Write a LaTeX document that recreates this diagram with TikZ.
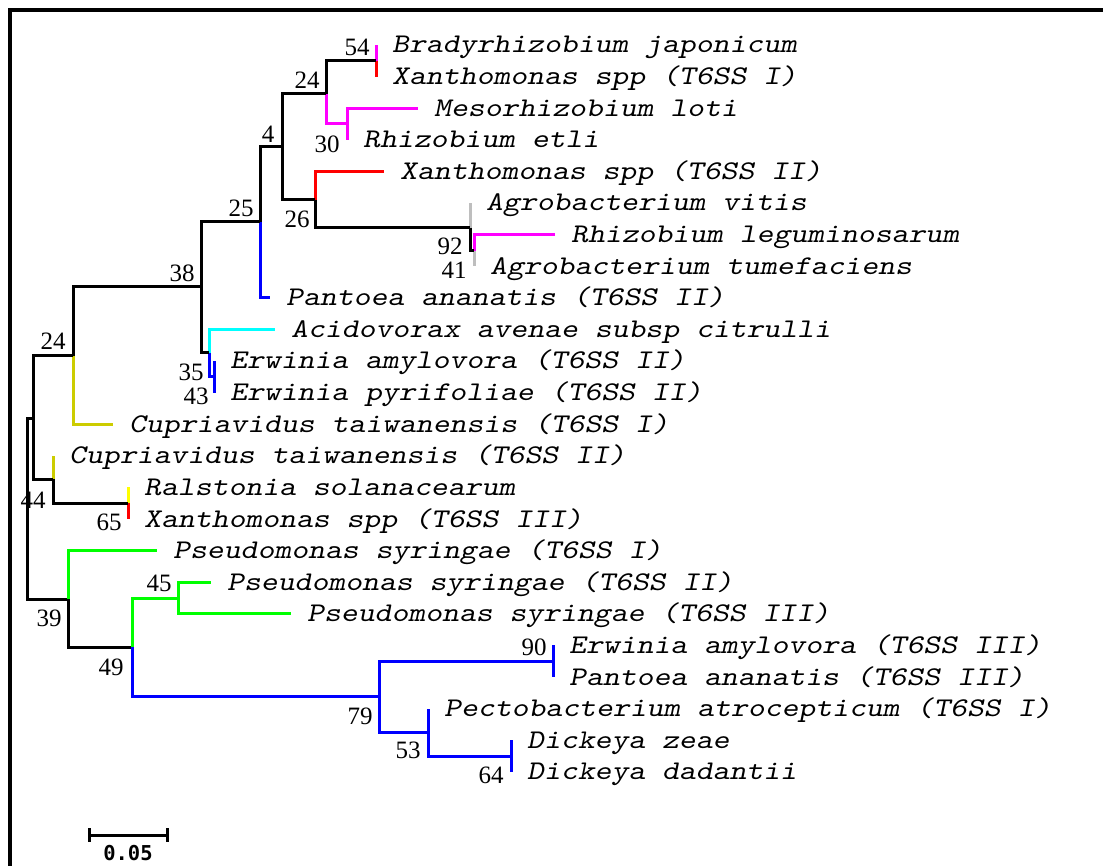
\documentclass[tikz,border=0pt]{standalone}
\usepackage{fontspec}
\setmainfont{Liberation Serif}
\newfontfamily\leaffont{lmmonoslant10-regular.otf}[FakeStretch=1.19]
\newfontfamily\barfont{DejaVu Sans Mono}
\definecolor{cmag}{RGB}{255,0,255}
\definecolor{cred}{RGB}{255,0,0}
\definecolor{cblue}{RGB}{0,0,255}
\definecolor{ccyan}{RGB}{0,255,255}
\definecolor{cgreen}{RGB}{0,255,0}
\definecolor{cgrey}{RGB}{190,190,190}
\definecolor{cdyel}{RGB}{204,204,0}
\definecolor{cyel}{RGB}{255,255,0}
\tikzset{
  br/.style={line width=3pt, line join=miter},
  leaftext/.style={font=\leaffont\fontsize{27}{29}\selectfont, inner sep=0pt, anchor=base west},
  num/.style={font=\fontsize{25}{27}\selectfont, inner sep=0pt, anchor=center},
  frame/.style={line width=4pt, line join=miter},
}
\newcommand\leafat[4]{%
  \coordinate (#1) at (#2,#3);
  \node[leaftext] (#1t) at ([xshift=16pt,yshift=-8pt]#1) {#4};}
\begin{document}
\begin{tikzpicture}[x=1pt,y=-1pt]
\useasboundingbox (0,0) rectangle (1103,866);
\fill[white] (0,0) rectangle (1103,866);
% frame
\coordinate (fa) at (10,870);
\coordinate (fb) at (10,10);
\coordinate (fc) at (1110,10);
\draw[frame] (fa) -- (fb) -- (fc);
% leaves
\leafat{L1}{376}{45}{Bradyrhizobium japonicum}
\leafat{L2}{376}{76.6}{Xanthomonas spp (T6SS I)}
\leafat{L3}{418}{108.2}{Mesorhizobium loti}
\leafat{L4}{347}{139.8}{Rhizobium etli}
\leafat{L5}{384}{171.4}{Xanthomonas spp (T6SS II)}
\leafat{L6}{470}{203}{Agrobacterium vitis}
\leafat{L7}{555}{234.6}{Rhizobium leguminosarum}
\leafat{L8}{474}{266.2}{Agrobacterium tumefaciens}
\leafat{L9}{270}{297.8}{Pantoea ananatis (T6SS II)}
\leafat{L10}{275}{329.4}{Acidovorax avenae subsp citrulli}
\leafat{L11}{214}{361}{Erwinia amylovora (T6SS II)}
\leafat{L12}{214}{392.6}{Erwinia pyrifoliae (T6SS II)}
\leafat{L13}{113}{424.2}{Cupriavidus taiwanensis (T6SS I)}
\leafat{L14}{53}{455.8}{Cupriavidus taiwanensis (T6SS II)}
\leafat{L15}{128}{487.4}{Ralstonia solanacearum}
\leafat{L16}{128}{519}{Xanthomonas spp (T6SS III)}
\leafat{L17}{157}{550.6}{Pseudomonas syringae (T6SS I)}
\leafat{L18}{211}{582.2}{Pseudomonas syringae (T6SS II)}
\leafat{L19}{291}{613.8}{Pseudomonas syringae (T6SS III)}
\leafat{L20}{553}{645.4}{Erwinia amylovora (T6SS III)}
\leafat{L21}{553}{677}{Pantoea ananatis (T6SS III)}
\leafat{L22}{428}{708.6}{Pectobacterium atrocepticum (T6SS I)}
\leafat{L23}{511}{740.2}{Dickeya zeae}
\leafat{L24}{511}{771.8}{Dickeya dadantii}
% internal nodes
\coordinate (n54) at (376,61);
\coordinate (n30) at (347,124);
\coordinate (n24a) at (326,94);
\coordinate (nQ) at (474,251);
\coordinate (nP) at (470,228);
\coordinate (n26) at (315,200);
\coordinate (n4) at (282,147);
\coordinate (n25) at (260,222);
\coordinate (nE) at (214,377);
\coordinate (nCy) at (209,353);
\coordinate (n38) at (201,287);
\coordinate (n24b) at (73,356);
\coordinate (n65) at (128,503);
\coordinate (n44) at (53,479);
\coordinate (nC) at (33,418);
\coordinate (root) at (27,508);
\coordinate (n39) at (68,599);
\coordinate (n49) at (132,647);
\coordinate (n45) at (178,598);
\coordinate (n79) at (379,696);
\coordinate (n90) at (553,661);
\coordinate (n53) at (428,732);
\coordinate (n64) at (511,756);
% branches
\draw[br,cmag] (n54) |- (L1);
\draw[br,cred] (n54) |- (L2);
\draw[br,cmag] (n30) |- (L3);
\draw[br,cmag] (n30) |- (L4);
\draw[br] (n24a) |- (n54);
\draw[br,cmag] (n24a) |- (n30);
\draw[br,cmag] (nQ) |- (L7);
\draw[br,cgrey] (nQ) |- (L8);
\draw[br,cgrey] (nP) |- (L6);
\draw[br] (nP) |- (nQ);
\draw[br,cred] (n26) |- (L5);
\draw[br] (n26) |- (nP);
\draw[br] (n4) |- (n24a);
\draw[br] (n4) |- (n26);
\draw[br] (n25) |- (n4);
\draw[br,cblue] (n25) |- (L9);
\draw[br,cblue] (nE) |- (L11);
\draw[br,cblue] (nE) |- (L12);
\draw[br,ccyan] (nCy) |- (L10);
\draw[br,cblue] (nCy) |- (nE);
\draw[br] (n38) |- (n25);
\draw[br] (n38) |- (nCy);
\draw[br] (n24b) |- (n38);
\draw[br,cdyel] (n24b) |- (L13);
\draw[br,cyel] (n65) |- (L15);
\draw[br,cred] (n65) |- (L16);
\draw[br,cdyel] (n44) |- (L14);
\draw[br] (n44) |- (n65);
\draw[br] (nC) |- (n24b);
\draw[br] (nC) |- (n44);
\draw[br] (root) |- (nC);
\draw[br] (root) |- (n39);
\draw[br,cgreen] (n39) |- (L17);
\draw[br] (n39) |- (n49);
\draw[br,cgreen] (n45) |- (L18);
\draw[br,cgreen] (n45) |- (L19);
\draw[br,cgreen] (n49) |- (n45);
\draw[br,cblue] (n49) |- (n79);
\draw[br,cblue] (n90) |- (L20);
\draw[br,cblue] (n90) |- (L21);
\draw[br,cblue] (n64) |- (L23);
\draw[br,cblue] (n64) |- (L24);
\draw[br,cblue] (n53) |- (L22);
\draw[br,cblue] (n53) |- (n64);
\draw[br,cblue] (n79) |- (n90);
\draw[br,cblue] (n79) |- (n53);
% bootstrap values
\node[num] (b54) at (357,47) {54};
\node[num] (b24a) at (307,80) {24};
\node[num] (b30) at (327,144) {30};
\node[num] (b4) at (268,134) {4};
\node[num] (b25) at (241,208) {25};
\node[num] (b26) at (297,219) {26};
\node[num] (b38) at (182,273) {38};
\node[num] (b92) at (450,246) {92};
\node[num] (b41) at (454,270) {41};
\node[num] (b24b) at (53,341) {24};
\node[num] (b35) at (191,372) {35};
\node[num] (b43) at (196,396) {43};
\node[num] (b44) at (33,500) {44};
\node[num] (b65) at (109,522) {65};
\node[num] (b39) at (49,618) {39};
\node[num] (b45) at (159,583) {45};
\node[num] (b49) at (111,667) {49};
\node[num] (b79) at (360,716) {79};
\node[num] (b90) at (534,647) {90};
\node[num] (b53) at (408,750) {53};
\node[num] (b64) at (491,775) {64};
% scale bar
\coordinate (sa) at (89,835);
\coordinate (sb) at (167,835);
\draw[line width=3pt] (sa) -- (sb);
\draw[line width=3pt] ([yshift=7pt]sa) -- ([yshift=-7pt]sa);
\draw[line width=3pt] ([yshift=7pt]sb) -- ([yshift=-7pt]sb);
\node[font=\barfont\bfseries\fontsize{20.5}{22}\selectfont, inner sep=0pt] (sl) at (128,853) {0.05};
\end{tikzpicture}
\end{document}
